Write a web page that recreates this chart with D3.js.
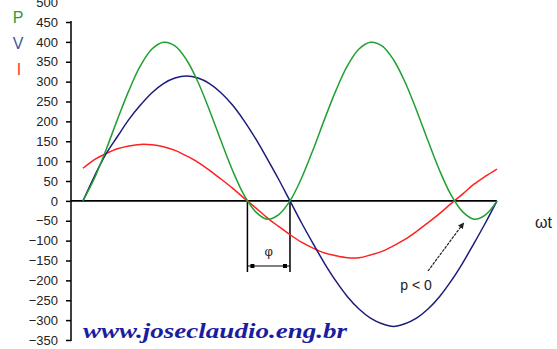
<!DOCTYPE html>
<html>
<head>
<meta charset="utf-8">
<script src="https://cdn.jsdelivr.net/npm/d3@7"></script>
<style>
  body { margin: 0; background: #fff; }
  svg { display: block; font-family: "Liberation Sans", Arial, sans-serif; }
</style>
</head>
<body>
<div id="chart"></div>
<script>
// angle (degrees of wt) for every sample
const angles = d3.range(0, 361, 10);
// values
const vData = [0, 62, 118, 162, 205, 241, 272, 295, 309, 314, 309, 295, 272, 241, 202, 157, 107, 55,
  0, -55, -107, -157, -202, -241, -272, -295, -309, -316, -309, -295, -272, -241, -202, -157, -107, -55, 0];
const iData = [82, 104, 119, 131, 138, 142, 141, 136, 127, 113, 97, 77, 55, 32, 7, -17, -42, -64,
  -85, -104, -119, -131, -138, -143, -143, -136, -127, -113, -97, -77, -55, -32, -7, 17, 42, 62, 80];
const pData = [0, 57, 128, 205, 278, 340, 382, 399, 390, 355, 299, 228, 151, 77, 15, -27, -46, -35,
  0, 57, 128, 205, 278, 340, 382, 399, 390, 355, 299, 228, 151, 77, 15, -27, -46, -35, 0];
const yTicks = [500, 450, 400, 350, 300, 250, 200, 150, 100, 50, 0, -50, -100, -150, -200, -250, -300, -350];
const legend = [
  { label: "P", color: "#2a9a3a" },
  { label: "V", color: "#3a5a98" },
  { label: "I", color: "#ff3030" },
];
const phaseStart = 143; // I crosses zero
const phaseEnd = 180;   // V crosses zero

const width = 557, height = 349;
const svg = d3.select("#chart").append("svg")
  .attr("width", width).attr("height", height);

const x = d3.scaleLinear().domain([-10.4, 360]).range([71, 497]);
const y = d3.scaleLinear().domain([-350, 450]).range([340, 22]);

// Y axis
const yAxis = svg.append("g")
  .attr("transform", `translate(${x(-10.4)},0)`)
  .call(d3.axisLeft(y).tickValues(yTicks).tickSize(5).tickPadding(8).tickSizeOuter(0));
yAxis.select(".domain").remove();
yAxis.selectAll(".tick").filter(d => d === 500).select("line").remove();
yAxis.selectAll(".tick text")
  .attr("font-size", 13)
  .attr("font-family", "'Liberation Sans', Arial, sans-serif")
  .attr("fill", "#222");
yAxis.selectAll(".tick line").attr("stroke", "#000").attr("stroke-width", 1.5);
svg.append("line")
  .attr("x1", x(-10.4)).attr("x2", x(-10.4))
  .attr("y1", y(450) - 1).attr("y2", y(-350) + 1)
  .attr("stroke", "#000").attr("stroke-width", 1.5);

// zero line
svg.append("line")
  .attr("x1", x(-10.4)).attr("x2", x(360))
  .attr("y1", y(0)).attr("y2", y(0))
  .attr("stroke", "#000").attr("stroke-width", 1.8);

// phase markers
const phiBottom = 272;
svg.append("line")
  .attr("x1", x(phaseStart)).attr("x2", x(phaseStart))
  .attr("y1", y(0)).attr("y2", phiBottom)
  .attr("stroke", "#000").attr("stroke-width", 1.5);
svg.append("line")
  .attr("x1", x(phaseEnd)).attr("x2", x(phaseEnd))
  .attr("y1", y(0)).attr("y2", phiBottom)
  .attr("stroke", "#000").attr("stroke-width", 1.5);
svg.append("line")
  .attr("x1", x(phaseStart)).attr("x2", x(phaseEnd))
  .attr("y1", 266).attr("y2", 266)
  .attr("stroke", "#000").attr("stroke-width", 1.2);
[phaseStart, phaseEnd].forEach((a, i) => {
  svg.append("rect")
    .attr("x", x(a) + (i === 0 ? 3 : -7)).attr("y", 264)
    .attr("width", 4).attr("height", 4).attr("fill", "#000");
});
svg.append("text")
  .attr("x", (x(phaseStart) + x(phaseEnd)) / 2).attr("y", 256)
  .attr("text-anchor", "middle").attr("font-size", 13)
  .attr("fill", "#222").text("φ");

// curves
const line = d3.line()
  .x((d, i) => x(angles[i]))
  .y(d => y(d))
  .curve(d3.curveCatmullRom);

[
  { values: iData, color: "#ff2020" },
  { values: vData, color: "#1c1c7c" },
  { values: pData, color: "#20a030" },
].forEach(s => {
  svg.append("path")
    .attr("d", line(s.values))
    .attr("fill", "none")
    .attr("stroke", s.color)
    .attr("stroke-width", 1.5);
});

// p < 0 arrow
svg.append("defs").append("marker")
  .attr("id", "arr").attr("viewBox", "0 0 10 10")
  .attr("refX", 9).attr("refY", 5)
  .attr("markerWidth", 5).attr("markerHeight", 5)
  .attr("orient", "auto")
  .append("path").attr("d", "M0,0L10,5L0,10z").attr("fill", "#222");
svg.append("line")
  .attr("x1", x(300)).attr("y1", 271)
  .attr("x2", x(331)).attr("y2", 223)
  .attr("stroke", "#222").attr("stroke-width", 1.2)
  .attr("stroke-dasharray", "3,1")
  .attr("marker-end", "url(#arr)");
svg.append("text")
  .attr("x", 416).attr("y", 290)
  .attr("text-anchor", "middle").attr("font-size", 14)
  .attr("fill", "#222").text("p < 0");

// wt label
svg.append("text")
  .attr("x", 535).attr("y", 228)
  .attr("font-size", 16).attr("fill", "#222").text("ωt");

// legend letters
legend.forEach((d, i) => {
  svg.append("text")
    .attr("x", d.label === "I" ? 19 : 18)
    .attr("y", 23 + i * 26)
    .attr("text-anchor", "middle")
    .attr("font-size", 16)
    .attr("fill", d.color)
    .text(d.label);
});

// site name
svg.append("text")
  .attr("x", 83).attr("y", 338)
  .attr("font-family", "'Liberation Serif', 'Times New Roman', serif")
  .attr("font-style", "italic").attr("font-weight", "bold")
  .attr("font-size", 21)
  .attr("textLength", 264).attr("lengthAdjust", "spacingAndGlyphs")
  .attr("fill", "#1c1ca0")
  .text("www.joseclaudio.eng.br");
</script>
</body>
</html>
